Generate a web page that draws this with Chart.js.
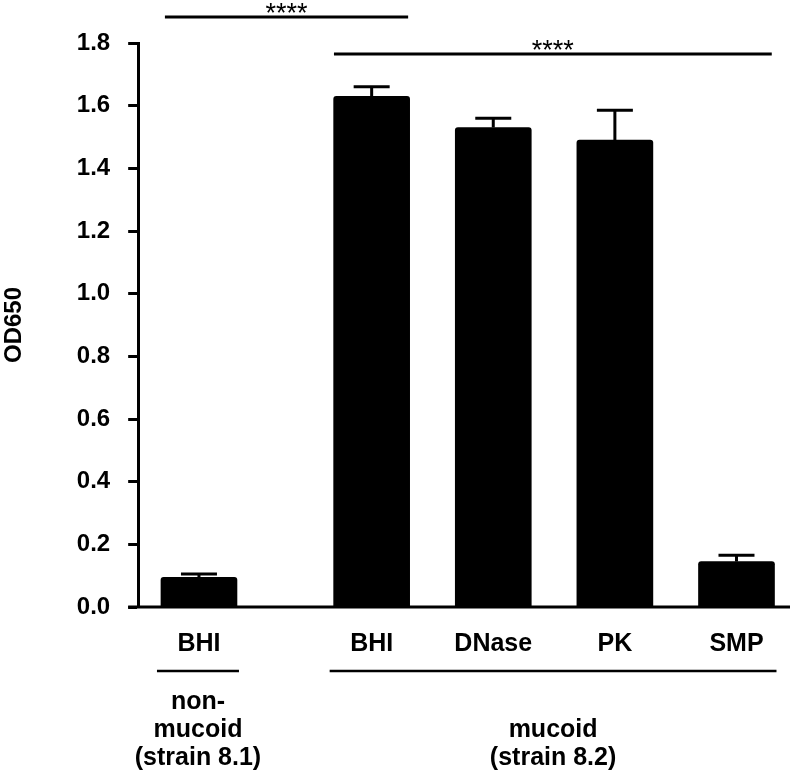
<!DOCTYPE html>
<html>
<head>
<meta charset="utf-8">
<script src="https://cdn.jsdelivr.net/npm/chart.js@4/dist/chart.umd.min.js"></script>
<style>
  html, body { margin: 0; padding: 0; background: #fff; }
  #wrap { width: 800px; height: 775px; }
</style>
</head>
<body>
<div id="wrap"><canvas id="chart" width="800" height="775"></canvas></div>
<script>
// categories and their x positions (in category units, gap after the first group)
const categories = ['BHI', 'BHI', 'DNase', 'PK', 'SMP']
const xPositions = [0.5, 1.92, 2.92, 3.92, 4.92]
const od650 = [0.095, 1.63, 1.53, 1.49, 0.145]
const od650Err = [0.01, 0.03, 0.03, 0.095, 0.02]

const yTicks = [0, 0.2, 0.4, 0.6, 0.8, 1.0, 1.2, 1.4, 1.6, 1.8]

// strain groups under the axis (first..last bar index)
const groups = [
  { first: 0, last: 0, lines: ['non-', 'mucoid', '(strain 8.1)'] },
  { first: 1, last: 4, lines: ['mucoid', '(strain 8.2)'] },
]

// significance brackets, x range in category units, y in OD650 units
const brackets = [
  { from: 0.22, to: 2.22, y: 1.883, label: '****' },
  { from: 1.61, to: 5.21, y: 1.765, label: '****' },
]

const FONT = '"Liberation Sans", Arial, sans-serif'

const annotations = {
  id: 'annotations',
  afterDatasetsDraw(chart) {
    const { ctx, scales: { x, y } } = chart
    const bars = chart.getDatasetMeta(0).data
    ctx.save()
    ctx.strokeStyle = '#000'
    ctx.fillStyle = '#000'
    ctx.lineCap = 'butt'

    // x baseline, extends past the y axis like the original
    const y0 = y.getPixelForValue(0)
    ctx.lineWidth = 3
    ctx.beginPath()
    ctx.moveTo(chart.chartArea.left - 10, y0)
    ctx.lineTo(chart.chartArea.right, y0)
    ctx.stroke()

    // error bars (upper only)
    bars.forEach((bar, i) => {
      const top = y.getPixelForValue(od650[i])
      const cap = y.getPixelForValue(od650[i] + od650Err[i])
      ctx.lineWidth = 3
      ctx.beginPath()
      ctx.moveTo(bar.x, top)
      ctx.lineTo(bar.x, cap)
      ctx.moveTo(bar.x - 18, cap)
      ctx.lineTo(bar.x + 18, cap)
      ctx.stroke()
    })

    // significance brackets
    brackets.forEach((b) => {
      const py = y.getPixelForValue(b.y)
      const x1 = x.getPixelForValue(b.from)
      const x2 = x.getPixelForValue(b.to)
      ctx.lineWidth = 3
      ctx.beginPath()
      ctx.moveTo(x1, py)
      ctx.lineTo(x2, py)
      ctx.stroke()
      ctx.font = '27px ' + FONT
      ctx.textAlign = 'center'
      ctx.textBaseline = 'alphabetic'
      ctx.fillText(b.label, (x1 + x2) / 2, py + 5)
    })

    // group underlines and labels
    groups.forEach((g) => {
      const a = bars[g.first]
      const b = bars[g.last]
      const left = a.x - a.width / 2 - 4
      const right = b.x + b.width / 2 + 2
      const ly = y0 + 64
      ctx.lineWidth = 2.5
      ctx.beginPath()
      ctx.moveTo(left, ly)
      ctx.lineTo(right, ly)
      ctx.stroke()
      ctx.font = 'bold 25px ' + FONT
      ctx.textAlign = 'center'
      ctx.textBaseline = 'middle'
      const cx = (left + right) / 2
      const startY = 758 - (g.lines.length - 1) * 28
      g.lines.forEach((t, i) => ctx.fillText(t, cx, startY + i * 28))
    })
    ctx.restore()
  },
}

new Chart(document.getElementById('chart'), {
  type: 'bar',
  data: {
    datasets: [{
      data: xPositions.map((xv, i) => ({ x: xv, y: od650[i] })),
      backgroundColor: '#000',
      borderWidth: 0,
      borderRadius: { topLeft: 3, topRight: 3 },
      borderSkipped: 'bottom',
      barThickness: 76,
    }],
  },
  options: {
    responsive: false,
    animation: false,
    events: [],
    layout: { padding: { top: 43, right: 10, bottom: 102, left: 0 } },
    plugins: { legend: { display: false }, tooltip: { enabled: false } },
    scales: {
      x: {
        type: 'linear',
        min: 0,
        max: 5.36,
        offset: false,
        border: { display: false },
        grid: { display: false },
        afterBuildTicks: (axis) => { axis.ticks = xPositions.map((v) => ({ value: v })) },
        ticks: {
          autoSkip: false,
          maxRotation: 0,
          padding: 14,
          color: '#000',
          font: { family: FONT, size: 25, weight: 'bold' },
          callback: (v, i) => categories[i],
        },
      },
      y: {
        min: 0,
        max: 1.8,
        border: { display: true, color: '#000', width: 3 },
        grid: {
          drawOnChartArea: false,
          drawTicks: true,
          tickLength: 10,
          tickWidth: 3,
          tickColor: '#000',
        },
        afterBuildTicks: (axis) => { axis.ticks = yTicks.map((v) => ({ value: v })) },
        ticks: {
          padding: 18,
          color: '#000',
          font: { family: FONT, size: 24, weight: 'bold' },
          callback: (v) => v.toFixed(1),
        },
        title: {
          display: true,
          text: 'OD650',
          color: '#000',
          font: { family: FONT, size: 24, weight: 'bold' },
          padding: { top: 0, bottom: 30 },
        },
      },
    },
  },
  plugins: [annotations],
})
</script>
</body>
</html>
